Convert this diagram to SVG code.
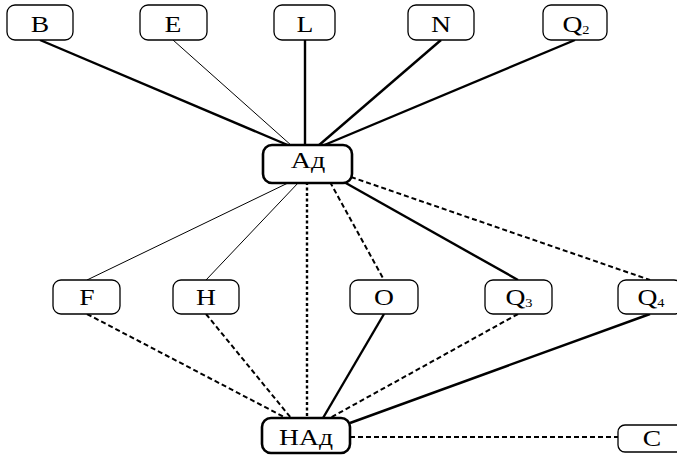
<svg xmlns="http://www.w3.org/2000/svg" width="677" height="460" viewBox="0 0 677 460">
<style>
.n rect{fill:#fff;stroke:#000;stroke-width:1.3}
.n.m rect{stroke-width:2.6}
.n text{font-family:"Liberation Serif","Times New Roman",serif;font-size:23px;text-anchor:middle;fill:#000}
.n text tspan.s{font-size:12px}
.c line{stroke:#000;fill:none}
.thick{stroke-width:2.4}
.thin{stroke-width:1}
.dash{stroke-width:2;stroke-dasharray:5 3}
.dot{stroke-width:2.4;stroke-dasharray:3 2.5}
</style>
<rect width="677" height="460" fill="#fff"/>
<g class="c" id="connectors">
<line class="thick" x1="40" y1="40" x2="290" y2="146"/>
<line class="thin" x1="173" y1="40" x2="292" y2="146"/>
<line class="thick" x1="305" y1="40" x2="305" y2="146"/>
<line class="thick" x1="441" y1="40" x2="318" y2="146"/>
<line class="thick" x1="575" y1="40" x2="322" y2="146"/>
<line class="thin" x1="290" y1="182" x2="87" y2="280"/>
<line class="thin" x1="299" y1="182" x2="206" y2="280"/>
<line class="dot" x1="307" y1="182" x2="307" y2="418"/>
<line class="dash" x1="330" y1="182" x2="384" y2="280"/>
<line class="thick" x1="344" y1="182" x2="518" y2="280"/>
<line class="dash" x1="351" y1="177" x2="650" y2="280"/>
<line class="dash" x1="87" y1="314" x2="286" y2="418"/>
<line class="dash" x1="206" y1="314" x2="291" y2="418"/>
<line class="thick" x1="384" y1="314" x2="323" y2="418"/>
<line class="dash" x1="518" y1="314" x2="330" y2="418"/>
<line class="thick" x1="650" y1="314" x2="350" y2="423"/>
<line class="dash" x1="350" y1="437" x2="618" y2="437"/>
</g>
<g class="n" id="B"><rect x="7" y="5" width="66" height="35" rx="8"/><text transform="translate(40 32) scale(1.2 1)">B</text></g>
<g class="n" id="E"><rect x="140" y="5" width="67" height="35" rx="8"/><text transform="translate(173 32) scale(1.2 1)">E</text></g>
<g class="n" id="L"><rect x="274" y="5" width="61" height="35" rx="8"/><text transform="translate(305 32) scale(1.2 1)">L</text></g>
<g class="n" id="N"><rect x="408" y="5" width="66" height="35" rx="8"/><text transform="translate(441 32) scale(1.2 1)">N</text></g>
<g class="n" id="Q2"><rect x="543" y="5" width="64" height="35" rx="8"/><text transform="translate(576 32) scale(1.2 1)">Q<tspan class="s" dy="2">2</tspan></text></g>
<g class="n m" id="Ad"><rect x="263" y="145" width="89" height="38" rx="9"/><text transform="translate(308 168) scale(1.22 1)">Ад</text></g>
<g class="n" id="F"><rect x="53" y="280" width="67" height="34" rx="8"/><text transform="translate(87 305) scale(1.2 1)">F</text></g>
<g class="n" id="H"><rect x="173" y="280" width="66" height="34" rx="8"/><text transform="translate(206 305) scale(1.2 1)">H</text></g>
<g class="n" id="O"><rect x="350" y="280" width="68" height="34" rx="8"/><text transform="translate(384 305) scale(1.2 1)">O</text></g>
<g class="n" id="Q3"><rect x="485" y="280" width="67" height="34" rx="8"/><text transform="translate(519 305) scale(1.2 1)">Q<tspan class="s" dy="2">3</tspan></text></g>
<g class="n" id="Q4"><rect x="618" y="280" width="64" height="34" rx="8"/><text transform="translate(651 305) scale(1.2 1)">Q<tspan class="s" dy="2">4</tspan></text></g>
<g class="n m" id="NAd"><rect x="262" y="418" width="88" height="35" rx="9"/><text transform="translate(306 445) scale(1.2 1)">НАд</text></g>
<g class="n" id="C"><rect x="618" y="425" width="66" height="27" rx="7"/><text transform="translate(652 446) scale(1.2 1)">C</text></g>
</svg>
